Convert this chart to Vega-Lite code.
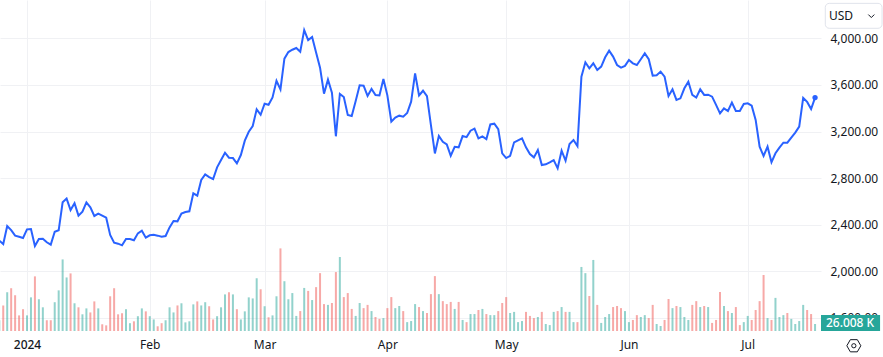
{"$schema":"https://vega.github.io/schema/vega-lite/v6.json","width":821,"height":331,"autosize":{"type":"none"},"padding":{"left":0,"top":0,"right":62,"bottom":26},"background":"#ffffff","config":{"view":{"stroke":null},"font":"Noto Sans"},"data":{"values":[
{"date":"2023-12-25","price":2263,"volume":40,"dir":"up"},{"date":"2023-12-26","price":2234,"volume":95,"dir":"down"},{"date":"2023-12-27","price":2389,"volume":144,"dir":"up"},{"date":"2023-12-28","price":2354,"volume":159,"dir":"down"},{"date":"2023-12-29","price":2306,"volume":133,"dir":"down"},{"date":"2023-12-30","price":2297,"volume":58,"dir":"down"},{"date":"2023-12-31","price":2286,"volume":81,"dir":"down"},
{"date":"2024-01-01","price":2360,"volume":58,"dir":"up"},{"date":"2024-01-02","price":2363,"volume":125,"dir":"up"},{"date":"2024-01-03","price":2217,"volume":203,"dir":"down"},{"date":"2024-01-04","price":2277,"volume":118,"dir":"up"},{"date":"2024-01-05","price":2280,"volume":88,"dir":"up"},{"date":"2024-01-06","price":2249,"volume":40,"dir":"down"},{"date":"2024-01-07","price":2229,"volume":40,"dir":"down"},{"date":"2024-01-08","price":2340,"volume":107,"dir":"up"},{"date":"2024-01-09","price":2352,"volume":151,"dir":"up"},{"date":"2024-01-10","price":2592,"volume":266,"dir":"up"},{"date":"2024-01-11","price":2624,"volume":199,"dir":"up"},{"date":"2024-01-12","price":2526,"volume":214,"dir":"down"},{"date":"2024-01-13","price":2584,"volume":103,"dir":"up"},{"date":"2024-01-14","price":2478,"volume":88,"dir":"down"},{"date":"2024-01-15","price":2512,"volume":62,"dir":"up"},{"date":"2024-01-16","price":2592,"volume":84,"dir":"up"},{"date":"2024-01-17","price":2549,"volume":69,"dir":"down"},{"date":"2024-01-18","price":2475,"volume":110,"dir":"down"},{"date":"2024-01-19","price":2495,"volume":84,"dir":"up"},{"date":"2024-01-20","price":2478,"volume":25,"dir":"down"},{"date":"2024-01-21","price":2460,"volume":21,"dir":"down"},{"date":"2024-01-22","price":2312,"volume":129,"dir":"down"},{"date":"2024-01-23","price":2246,"volume":159,"dir":"down"},{"date":"2024-01-24","price":2237,"volume":62,"dir":"down"},{"date":"2024-01-25","price":2223,"volume":66,"dir":"down"},{"date":"2024-01-26","price":2277,"volume":81,"dir":"up"},{"date":"2024-01-27","price":2277,"volume":29,"dir":"up"},{"date":"2024-01-28","price":2266,"volume":36,"dir":"down"},{"date":"2024-01-29","price":2326,"volume":55,"dir":"up"},{"date":"2024-01-30","price":2349,"volume":84,"dir":"up"},{"date":"2024-01-31","price":2289,"volume":73,"dir":"down"},
{"date":"2024-02-01","price":2309,"volume":55,"dir":"up"},{"date":"2024-02-02","price":2314,"volume":43,"dir":"up"},{"date":"2024-02-03","price":2306,"volume":17.5,"dir":"down"},{"date":"2024-02-04","price":2297,"volume":29,"dir":"down"},{"date":"2024-02-05","price":2303,"volume":40,"dir":"up"},{"date":"2024-02-06","price":2377,"volume":88,"dir":"up"},{"date":"2024-02-07","price":2432,"volume":69,"dir":"up"},{"date":"2024-02-08","price":2429,"volume":95,"dir":"down"},{"date":"2024-02-09","price":2495,"volume":103,"dir":"up"},{"date":"2024-02-10","price":2509,"volume":32,"dir":"up"},{"date":"2024-02-11","price":2515,"volume":36,"dir":"up"},{"date":"2024-02-12","price":2669,"volume":99,"dir":"up"},{"date":"2024-02-13","price":2649,"volume":110,"dir":"down"},{"date":"2024-02-14","price":2784,"volume":95,"dir":"up"},{"date":"2024-02-15","price":2832,"volume":107,"dir":"up"},{"date":"2024-02-16","price":2809,"volume":92,"dir":"down"},{"date":"2024-02-17","price":2792,"volume":43,"dir":"down"},{"date":"2024-02-18","price":2892,"volume":55,"dir":"up"},{"date":"2024-02-19","price":2955,"volume":88,"dir":"up"},{"date":"2024-02-20","price":3018,"volume":136,"dir":"up"},{"date":"2024-02-21","price":2975,"volume":144,"dir":"down"},{"date":"2024-02-22","price":2972,"volume":136,"dir":"up"},{"date":"2024-02-23","price":2927,"volume":81,"dir":"down"},{"date":"2024-02-24","price":2998,"volume":43,"dir":"up"},{"date":"2024-02-25","price":3121,"volume":73,"dir":"up"},{"date":"2024-02-26","price":3198,"volume":125,"dir":"up"},{"date":"2024-02-27","price":3247,"volume":121,"dir":"up"},{"date":"2024-02-28","price":3390,"volume":196,"dir":"up"},{"date":"2024-02-29","price":3344,"volume":155,"dir":"down"},
{"date":"2024-03-01","price":3439,"volume":92,"dir":"up"},{"date":"2024-03-02","price":3430,"volume":51,"dir":"down"},{"date":"2024-03-03","price":3493,"volume":58,"dir":"up"},{"date":"2024-03-04","price":3636,"volume":129,"dir":"up"},{"date":"2024-03-05","price":3562,"volume":307,"dir":"down"},{"date":"2024-03-06","price":3825,"volume":185,"dir":"up"},{"date":"2024-03-07","price":3882,"volume":118,"dir":"up"},{"date":"2024-03-08","price":3902,"volume":141,"dir":"up"},{"date":"2024-03-09","price":3917,"volume":56,"dir":"up"},{"date":"2024-03-10","price":3885,"volume":74,"dir":"down"},{"date":"2024-03-11","price":4071,"volume":160,"dir":"up"},{"date":"2024-03-12","price":3985,"volume":149,"dir":"down"},{"date":"2024-03-13","price":4011,"volume":115,"dir":"up"},{"date":"2024-03-14","price":3879,"volume":163,"dir":"down"},{"date":"2024-03-15","price":3748,"volume":215,"dir":"down"},{"date":"2024-03-16","price":3525,"volume":100,"dir":"down"},{"date":"2024-03-17","price":3645,"volume":97,"dir":"up"},{"date":"2024-03-18","price":3533,"volume":104,"dir":"down"},{"date":"2024-03-19","price":3159,"volume":219,"dir":"down"},{"date":"2024-03-20","price":3522,"volume":275,"dir":"up"},{"date":"2024-03-21","price":3496,"volume":126,"dir":"down"},{"date":"2024-03-22","price":3342,"volume":141,"dir":"down"},{"date":"2024-03-23","price":3333,"volume":82,"dir":"down"},{"date":"2024-03-24","price":3462,"volume":56,"dir":"up"},{"date":"2024-03-25","price":3596,"volume":104,"dir":"up"},{"date":"2024-03-26","price":3593,"volume":85,"dir":"down"},{"date":"2024-03-27","price":3505,"volume":97,"dir":"down"},{"date":"2024-03-28","price":3565,"volume":74,"dir":"up"},{"date":"2024-03-29","price":3513,"volume":52,"dir":"down"},{"date":"2024-03-30","price":3510,"volume":45,"dir":"down"},{"date":"2024-03-31","price":3651,"volume":48,"dir":"up"},
{"date":"2024-04-01","price":3510,"volume":85,"dir":"down"},{"date":"2024-04-02","price":3284,"volume":126,"dir":"down"},{"date":"2024-04-03","price":3319,"volume":85,"dir":"up"},{"date":"2024-04-04","price":3336,"volume":93,"dir":"up"},{"date":"2024-04-05","price":3327,"volume":74,"dir":"down"},{"date":"2024-04-06","price":3359,"volume":33,"dir":"up"},{"date":"2024-04-07","price":3456,"volume":37,"dir":"up"},{"date":"2024-04-08","price":3699,"volume":100,"dir":"up"},{"date":"2024-04-09","price":3510,"volume":89,"dir":"down"},{"date":"2024-04-10","price":3550,"volume":74,"dir":"up"},{"date":"2024-04-11","price":3504,"volume":67,"dir":"down"},{"date":"2024-04-12","price":3255,"volume":137,"dir":"down"},{"date":"2024-04-13","price":3012,"volume":204,"dir":"down"},{"date":"2024-04-14","price":3161,"volume":137,"dir":"up"},{"date":"2024-04-15","price":3112,"volume":111,"dir":"down"},{"date":"2024-04-16","price":3090,"volume":100,"dir":"down"},{"date":"2024-04-17","price":2992,"volume":108,"dir":"down"},{"date":"2024-04-18","price":3069,"volume":82,"dir":"up"},{"date":"2024-04-19","price":3064,"volume":108,"dir":"down"},{"date":"2024-04-20","price":3161,"volume":41,"dir":"up"},{"date":"2024-04-21","price":3152,"volume":33,"dir":"down"},{"date":"2024-04-22","price":3207,"volume":63,"dir":"up"},{"date":"2024-04-23","price":3224,"volume":63,"dir":"up"},{"date":"2024-04-24","price":3141,"volume":78,"dir":"down"},{"date":"2024-04-25","price":3158,"volume":82,"dir":"up"},{"date":"2024-04-26","price":3135,"volume":63,"dir":"down"},{"date":"2024-04-27","price":3261,"volume":59,"dir":"up"},{"date":"2024-04-28","price":3267,"volume":59,"dir":"up"},{"date":"2024-04-29","price":3221,"volume":74,"dir":"down"},{"date":"2024-04-30","price":3012,"volume":104,"dir":"down"},
{"date":"2024-05-01","price":2972,"volume":126,"dir":"down"},{"date":"2024-05-02","price":2992,"volume":67,"dir":"up"},{"date":"2024-05-03","price":3107,"volume":71,"dir":"up"},{"date":"2024-05-04","price":3124,"volume":33,"dir":"up"},{"date":"2024-05-05","price":3141,"volume":37,"dir":"up"},{"date":"2024-05-06","price":3064,"volume":71,"dir":"down"},{"date":"2024-05-07","price":3007,"volume":56,"dir":"down"},{"date":"2024-05-08","price":2978,"volume":48,"dir":"down"},{"date":"2024-05-09","price":3041,"volume":52,"dir":"up"},{"date":"2024-05-10","price":2912,"volume":71,"dir":"down"},{"date":"2024-05-11","price":2918,"volume":26,"dir":"up"},{"date":"2024-05-12","price":2935,"volume":22,"dir":"up"},{"date":"2024-05-13","price":2955,"volume":71,"dir":"up"},{"date":"2024-05-14","price":2884,"volume":74,"dir":"down"},{"date":"2024-05-15","price":3035,"volume":89,"dir":"up"},{"date":"2024-05-16","price":2949,"volume":71,"dir":"down"},{"date":"2024-05-17","price":3092,"volume":71,"dir":"up"},{"date":"2024-05-18","price":3127,"volume":33,"dir":"up"},{"date":"2024-05-19","price":3075,"volume":33,"dir":"down"},{"date":"2024-05-20","price":3670,"volume":238,"dir":"up"},{"date":"2024-05-21","price":3794,"volume":215,"dir":"up"},{"date":"2024-05-22","price":3742,"volume":130,"dir":"down"},{"date":"2024-05-23","price":3785,"volume":264,"dir":"up"},{"date":"2024-05-24","price":3728,"volume":97,"dir":"down"},{"date":"2024-05-25","price":3757,"volume":30,"dir":"up"},{"date":"2024-05-26","price":3837,"volume":52,"dir":"up"},{"date":"2024-05-27","price":3894,"volume":63,"dir":"up"},{"date":"2024-05-28","price":3843,"volume":89,"dir":"down"},{"date":"2024-05-29","price":3771,"volume":93,"dir":"down"},{"date":"2024-05-30","price":3748,"volume":85,"dir":"down"},{"date":"2024-05-31","price":3763,"volume":74,"dir":"up"},
{"date":"2024-06-01","price":3814,"volume":33,"dir":"up"},{"date":"2024-06-02","price":3785,"volume":41,"dir":"down"},{"date":"2024-06-03","price":3771,"volume":59,"dir":"down"},{"date":"2024-06-04","price":3820,"volume":52,"dir":"up"},{"date":"2024-06-05","price":3871,"volume":59,"dir":"up"},{"date":"2024-06-06","price":3820,"volume":48,"dir":"down"},{"date":"2024-06-07","price":3680,"volume":97,"dir":"down"},{"date":"2024-06-08","price":3682,"volume":26,"dir":"up"},{"date":"2024-06-09","price":3714,"volume":18.6,"dir":"up"},{"date":"2024-06-10","price":3671,"volume":41,"dir":"down"},{"date":"2024-06-11","price":3505,"volume":119,"dir":"down"},{"date":"2024-06-12","price":3562,"volume":85,"dir":"up"},{"date":"2024-06-13","price":3471,"volume":93,"dir":"down"},{"date":"2024-06-14","price":3485,"volume":89,"dir":"up"},{"date":"2024-06-15","price":3571,"volume":52,"dir":"up"},{"date":"2024-06-16","price":3628,"volume":41,"dir":"up"},{"date":"2024-06-17","price":3514,"volume":97,"dir":"down"},{"date":"2024-06-18","price":3491,"volume":111,"dir":"down"},{"date":"2024-06-19","price":3562,"volume":89,"dir":"up"},{"date":"2024-06-20","price":3514,"volume":93,"dir":"down"},{"date":"2024-06-21","price":3516,"volume":89,"dir":"up"},{"date":"2024-06-22","price":3499,"volume":30,"dir":"down"},{"date":"2024-06-23","price":3428,"volume":41,"dir":"down"},{"date":"2024-06-24","price":3356,"volume":145,"dir":"down"},{"date":"2024-06-25","price":3399,"volume":93,"dir":"up"},{"date":"2024-06-26","price":3376,"volume":74,"dir":"down"},{"date":"2024-06-27","price":3448,"volume":67,"dir":"up"},{"date":"2024-06-28","price":3376,"volume":89,"dir":"down"},{"date":"2024-06-29","price":3376,"volume":22,"dir":"down"},{"date":"2024-06-30","price":3436,"volume":33,"dir":"up"},
{"date":"2024-07-01","price":3442,"volume":56,"dir":"up"},{"date":"2024-07-02","price":3422,"volume":41,"dir":"down"},{"date":"2024-07-03","price":3299,"volume":78,"dir":"down"},{"date":"2024-07-04","price":3070,"volume":111,"dir":"down"},{"date":"2024-07-05","price":2990,"volume":208,"dir":"down"},{"date":"2024-07-06","price":3070,"volume":48,"dir":"up"},{"date":"2024-07-07","price":2936,"volume":41,"dir":"down"},{"date":"2024-07-08","price":3013,"volume":123,"dir":"up"},{"date":"2024-07-09","price":3062,"volume":52,"dir":"up"},{"date":"2024-07-10","price":3104,"volume":59,"dir":"up"},{"date":"2024-07-11","price":3104,"volume":67,"dir":"down"},{"date":"2024-07-12","price":3147,"volume":45,"dir":"up"},{"date":"2024-07-13","price":3190,"volume":26,"dir":"up"},{"date":"2024-07-14","price":3242,"volume":37,"dir":"up"},{"date":"2024-07-15","price":3488,"volume":97,"dir":"up"},{"date":"2024-07-16","price":3454,"volume":78,"dir":"down"},{"date":"2024-07-17","price":3393,"volume":63,"dir":"down"},{"date":"2024-07-18","price":3491,"volume":26.008,"dir":"up"}
]},
"encoding":{"x":{"field":"date","type":"temporal","title":null,"scale":{"type":"utc","padding":0,"domain":["2023-12-25T04:22:00Z","2024-07-19T12:00:00Z"]},"axis":{"orient":"bottom","domain":false,"ticks":false,"grid":true,"gridColor":"#f0f1f4","gridWidth":1,"labelColor":"#131722","labelFontSize":12,"labelFont":"Noto Sans","labelPadding":8,"labelOverlap":false,"labelBound":false,"labelFontWeight":{"condition":{"test":"utcmonth(datum.value)==0","value":500},"value":400},"values":[{"year":2024,"month":1,"date":1,"utc":true},{"year":2024,"month":2,"date":1,"utc":true},{"year":2024,"month":3,"date":1,"utc":true},{"year":2024,"month":4,"date":1,"utc":true},{"year":2024,"month":5,"date":1,"utc":true},{"year":2024,"month":6,"date":1,"utc":true},{"year":2024,"month":7,"date":1,"utc":true}],"labelExpr":"utcmonth(datum.value)==0 ? '2024' : utcFormat(datum.value,'%b')"}}},
"resolve":{"scale":{"y":"independent"},"axis":{"y":"independent"}},
"layer":[
{"mark":{"type":"bar","size":2,"opacity":0.5},"encoding":{"y":{"field":"volume","type":"quantitative","scale":{"domain":[0,1230],"nice":false,"zero":true},"axis":null},"color":{"field":"dir","type":"nominal","legend":null,"scale":{"domain":["up","down"],"range":["#26a69a","#ef5350"]}}}},
{"mark":{"type":"line","color":"#2962ff","strokeWidth":2,"interpolate":"linear"},"encoding":{"y":{"field":"price","type":"quantitative","title":null,"scale":{"domain":[1487.6,4328.8],"nice":false,"zero":false},"axis":{"orient":"right","domain":false,"ticks":false,"grid":true,"gridColor":"#f0f1f4","gridWidth":1,"labelColor":"#131722","labelFontSize":12,"labelFont":"Noto Sans","labelPadding":9,"labelOverlap":false,"format":",.2f","values":[1600,2000,2400,2800,3200,3600,4000]}}}},
{"data":{"values":[{"date":"2024-07-18","price":3491}]},"mark":{"type":"point","shape":"circle","filled":true,"color":"#2962ff","size":28,"opacity":1},"encoding":{"y":{"field":"price","type":"quantitative","scale":{"domain":[1487.6,4328.8],"nice":false,"zero":false},"axis":null}}},
{"data":{"values":[{"date":"2024-07-19T12:00:00Z","end":"2024-08-03T10:00:00Z","price":1625,"price2":1487.6}]},"mark":{"type":"rect","color":"#26a69a","clip":false},"encoding":{"x2":{"field":"end"},"y":{"field":"price","type":"quantitative","scale":{"domain":[1487.6,4328.8],"nice":false,"zero":false},"axis":null},"y2":{"field":"price2"}}},
{"data":{"values":[{"date":"2024-07-26T20:00:00Z","price":1556,"label":"26.008 K"}]},"mark":{"type":"text","color":"#ffffff","font":"Noto Sans","fontSize":12,"fontWeight":500,"align":"center","baseline":"middle","clip":false},"encoding":{"text":{"field":"label"},"y":{"field":"price","type":"quantitative","scale":{"domain":[1487.6,4328.8],"nice":false,"zero":false},"axis":null}}},
{"data":{"values":[{"date":"2024-07-20T14:00:00Z","end":"2024-08-03T22:00:00Z","price":4300,"price2":4086}]},"mark":{"type":"rect","fill":"#ffffff","stroke":"#e0e3eb","strokeWidth":1,"cornerRadius":4,"clip":false},"encoding":{"x2":{"field":"end"},"y":{"field":"price","type":"quantitative","scale":{"domain":[1487.6,4328.8],"nice":false,"zero":false},"axis":null},"y2":{"field":"price2"}}},
{"data":{"values":[{"date":"2024-07-21T12:00:00Z","price":4191,"label":"USD"}]},"mark":{"type":"text","color":"#131722","font":"Noto Sans","fontSize":12,"align":"left","baseline":"middle","clip":false},"encoding":{"text":{"field":"label"},"y":{"field":"price","type":"quantitative","scale":{"domain":[1487.6,4328.8],"nice":false,"zero":false},"axis":null}}},
{"data":{"values":[{"date":"2024-08-01T05:00:00Z","price":4191}]},"mark":{"type":"point","shape":"M-1,-0.5L0,0.5L1,-0.5","size":36,"filled":false,"stroke":"#131722","strokeWidth":1,"opacity":1,"clip":false},"encoding":{"y":{"field":"price","type":"quantitative","scale":{"domain":[1487.6,4328.8],"nice":false,"zero":false},"axis":null}}},
{"data":{"values":[{"date":"2024-07-27T19:00:00Z","price":1361}]},"mark":{"type":"point","shape":"M-1,0L-0.5,-0.87L0.5,-0.87L1,0L0.5,0.87L-0.5,0.87Z","size":196,"filled":false,"stroke":"#131722","strokeWidth":1,"opacity":1,"clip":false},"encoding":{"y":{"field":"price","type":"quantitative","scale":{"domain":[1487.6,4328.8],"nice":false,"zero":false},"axis":null}}},
{"data":{"values":[{"date":"2024-07-27T19:00:00Z","price":1361}]},"mark":{"type":"point","shape":"circle","size":18,"filled":false,"stroke":"#131722","strokeWidth":1,"opacity":1,"clip":false},"encoding":{"y":{"field":"price","type":"quantitative","scale":{"domain":[1487.6,4328.8],"nice":false,"zero":false},"axis":null}}}
]}
